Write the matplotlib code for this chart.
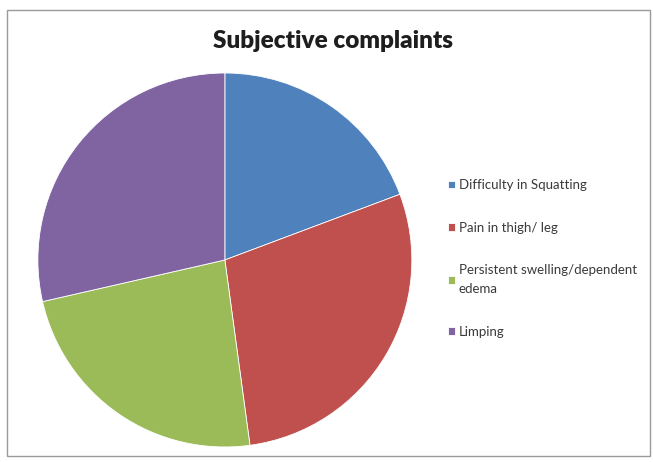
import matplotlib.pyplot as plt
import matplotlib.patches as mpatches

# data
labels = ['Difficulty in Squatting', 'Pain in thigh/ leg',
          'Persistent swelling/dependent\nedema', 'Limping']
values = [27, 40, 33, 40]
colors = ['#4F81BD', '#C0504D', '#9BBB59', '#8064A2']

plt.rcParams['font.family'] = ['Lato', 'DejaVu Sans']

fig = plt.figure(figsize=(6.53, 4.62), dpi=100)
fig.patch.set_facecolor('white')

# chart frame
fig.patches.append(mpatches.Rectangle((0.011, 0.012), 0.984, 0.966, transform=fig.transFigure,
                                      fill=False, edgecolor='#9a9a9a', linewidth=1.0))

ax = fig.add_axes([0.058, 0.0325, 0.5727, 0.8095])
wedges, _ = ax.pie(values, colors=colors, startangle=90, counterclock=False,
                   wedgeprops=dict(linewidth=0.6, edgecolor='white'))
ax.set_xlim(-1, 1)
ax.set_ylim(-1, 1)
ax.set_aspect('equal')

fig.text(0.510, 0.912, 'Subjective complaints', ha='center', va='center',
         fontsize=17.5, fontweight='heavy', color='#1e1e1e')

leg = fig.legend(wedges, labels, loc='upper left', bbox_to_anchor=(0.686, 0.612),
                 frameon=False, fontsize=9.5, labelspacing=2.3,
                 handlelength=0.5, handleheight=0.5, handletextpad=0.3,
                 borderaxespad=0, borderpad=0)
for t in leg.get_texts():
    t.set_color('#3a3a3a')
    t.set_linespacing(1.75)

plt.savefig('out.png', dpi=100)
